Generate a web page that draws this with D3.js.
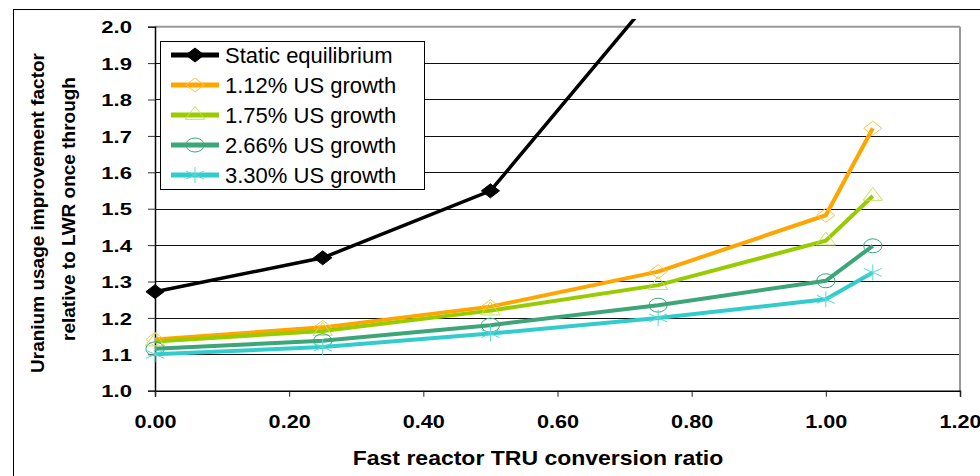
<!DOCTYPE html>
<html><head><meta charset="utf-8">
<script src="https://cdn.jsdelivr.net/npm/d3@7"></script>
<style>body{margin:0;background:#fff}svg{display:block;font-family:"Liberation Sans",Arial,sans-serif}</style>
</head><body><svg id="c" width="980" height="476"></svg>
<script>
// ---- data ----
const conversionRatio = [0, 0.25, 0.5, 0.75, 1.0, 1.07];
const staticEquilibrium = [1.272, 1.365, 1.549, 2.10];
const growth112 = [1.141, 1.174, 1.231, 1.327, 1.482, 1.721];
const growth175 = [1.135, 1.164, 1.220, 1.290, 1.412, 1.535];
const growth266 = [1.115, 1.137, 1.180, 1.235, 1.302, 1.398];
const growth330 = [1.100, 1.120, 1.157, 1.200, 1.251, 1.325];
const seriesNames = ["Static equilibrium", "1.12% US growth", "1.75% US growth", "2.66% US growth", "3.30% US growth"];
const xTickValues = [0, 0.2, 0.4, 0.6, 0.8, 1.0, 1.2];
const yTickValues = [1.0, 1.1, 1.2, 1.3, 1.4, 1.5, 1.6, 1.7, 1.8, 1.9, 2.0];
const xTitle = "Fast reactor TRU conversion ratio";
const yTitle = ["Uranium usage improvement factor", "relative to LWR once through"];

// ---- layout ----
const svg = d3.select("#c");
const x = d3.scaleLinear().domain([0, 1.2]).range([155, 960]);
const y = d3.scaleLinear().domain([1.0, 2.0]).range([390.7, 26.7]);

const asterisk = {draw(ctx, size){
  const r = Math.sqrt(size)/2, a = r*Math.cos(Math.PI/6), b = r*Math.sin(Math.PI/6);
  ctx.moveTo(0,-r); ctx.lineTo(0,r);
  ctx.moveTo(-a,-b); ctx.lineTo(a,b);
  ctx.moveTo(-a,b); ctx.lineTo(a,-b);
}};
const diamond = {draw(ctx, size){
  const h = Math.sqrt(size)/2*1.0;
  ctx.moveTo(0,-h); ctx.lineTo(h,0); ctx.lineTo(0,h); ctx.lineTo(-h,0); ctx.closePath();
}};

const series = [
  {name: seriesNames[0], values: staticEquilibrium, color: "#000", width: 3.5, sym: diamond, size: 196, fill: "#000", mstroke: "#000", mw: 1},
  {name: seriesNames[1], values: growth112, color: "#FFA500", width: 4, sym: diamond, size: 196, fill: "none", mstroke: "#FFC24A", mw: 1},
  {name: seriesNames[2], values: growth175, color: "#99CC00", width: 4, sym: d3.symbolTriangle, size: 97, fill: "none", mstroke: "#C6E05A", mw: 1},
  {name: seriesNames[3], values: growth266, color: "#3CA678", width: 4, sym: d3.symbolCircle, size: 154, fill: "none", mstroke: "#3CA678", mw: 1},
  {name: seriesNames[4], values: growth330, color: "#33CCCC", width: 4, sym: asterisk, size: 256, fill: "none", mstroke: "#55D8D8", mw: 1}
];

// outer frame
svg.append("rect").attr("x",13.5).attr("y",9.5).attr("width",1000).attr("height",1000)
  .attr("fill","none").attr("stroke","#000").attr("stroke-width",1);

// gridlines
svg.append("g").selectAll("line").data(yTickValues.filter(v => v > 1.0 && v < 2.0)).join("line")
  .attr("x1", x(0)).attr("x2", x(1.2)).attr("y1", d => Math.round(y(d))+0.5).attr("y2", d => Math.round(y(d))+0.5)
  .attr("stroke","#111").attr("stroke-width",1);
// plot border top/right (gray)
svg.append("line").attr("x1",x(0)).attr("x2",x(1.2)).attr("y1",y(2.0)).attr("y2",y(2.0)).attr("stroke","#999").attr("stroke-width",2);
svg.append("line").attr("x1",x(1.2)).attr("x2",x(1.2)).attr("y1",y(2.0)).attr("y2",y(1.0)).attr("stroke","#999").attr("stroke-width",2);

// y axis
const yMinor = d3.range(1.0, 2.001, 0.02);
const gy = svg.append("g").attr("transform",`translate(${x(0)},0)`);
gy.call(d3.axisLeft(y).tickValues(yMinor).tickSize(-7).tickFormat(""));
gy.call(d3.axisLeft(y).tickValues(yTickValues).tickSize(7).tickFormat(d3.format(".1f")));
gy.selectAll(".domain").attr("stroke","#000").attr("stroke-width",1.5);
gy.selectAll(".tick line").attr("stroke","#333");
gy.selectAll(".tick text").attr("x",0).attr("dy","0.36em")
  .attr("transform","translate(-23,0) scale(1.3,1)")
  .attr("font-size",17).attr("font-weight","bold").attr("fill","#000")
  .attr("font-family","'Liberation Sans',Arial,sans-serif");

// x axis
const xMinor = d3.range(0, 1.2001, 0.05);
const gx = svg.append("g").attr("transform",`translate(0,${y(1.0)})`);
gx.call(d3.axisBottom(x).tickValues(xMinor).tickSize(-6).tickFormat(""));
gx.call(d3.axisBottom(x).tickValues(xTickValues).tickSize(6).tickFormat(d3.format(".2f")));
gx.selectAll(".domain").attr("stroke","#000").attr("stroke-width",1.5);
gx.selectAll(".tick line").attr("stroke","#222");
gx.selectAll(".tick text").attr("y",0).attr("dy",null)
  .attr("transform","translate(0,37.5) scale(1.17,1)")
  .attr("font-size",18.5).attr("font-weight","bold").attr("fill","#000")
  .attr("font-family","'Liberation Sans',Arial,sans-serif");

// titles
svg.append("text").attr("transform","translate(538,465) scale(1.15,1)")
  .attr("text-anchor","middle").attr("font-size",20).attr("font-weight","bold").text(xTitle);
yTitle.forEach((t,i) => {
  svg.append("text").attr("transform",`translate(${[37,68][i]},${[213,209][i]}) rotate(-90)`)
    .attr("text-anchor","middle").attr("dominant-baseline","central")
    .attr("font-size",19).attr("font-weight","bold").text(t);
});

// clip
svg.append("clipPath").attr("id","clip").append("rect")
  .attr("x", x(0)-12).attr("y", 19).attr("width", x(1.2)-x(0)+24).attr("height", y(1.0)-19+12);

const plot = svg.append("g").attr("clip-path","url(#clip)");
const line = d3.line().x(d => x(d[0])).y(d => y(d[1]));
series.forEach(s => {
  const pts = s.values.map((v,i) => [conversionRatio[i], v]);
  plot.append("path").attr("d", line(pts)).attr("fill","none").attr("stroke", s.color)
    .attr("stroke-width", s.width).attr("stroke-linejoin","miter");
  plot.selectAll(null).data(pts.filter(p => p[1] <= 2.0)).join("path")
    .attr("d", d3.symbol().type(s.sym).size(s.size)())
    .attr("transform", p => `translate(${x(p[0])},${y(p[1])}) scale(1.3,1)`)
    .attr("fill", s.fill).attr("stroke", s.mstroke).attr("stroke-width", s.mw)
    .attr("vector-effect","non-scaling-stroke");
});

// legend
const lg = svg.append("g");
lg.append("rect").attr("x",160.5).attr("y",41.5).attr("width",264).attr("height",148)
  .attr("fill","#fff").attr("stroke","#000").attr("stroke-width",1);
series.forEach((s,i) => {
  const cy = 55 + i*30;
  lg.append("line").attr("x1",171).attr("x2",219).attr("y1",cy).attr("y2",cy)
    .attr("stroke", s.color).attr("stroke-width", 5);
  lg.append("path").attr("d", d3.symbol().type(s.sym).size(s.size)())
    .attr("transform", `translate(195,${cy}) scale(1.3,1)`)
    .attr("fill", s.fill === "none" ? "none" : s.fill).attr("stroke", s.mstroke).attr("stroke-width", s.mw)
    .attr("vector-effect","non-scaling-stroke");
  lg.append("text").attr("x",225).attr("y",cy).attr("dy","0.36em").attr("font-size",22).text(s.name);
});
</script></body></html>
